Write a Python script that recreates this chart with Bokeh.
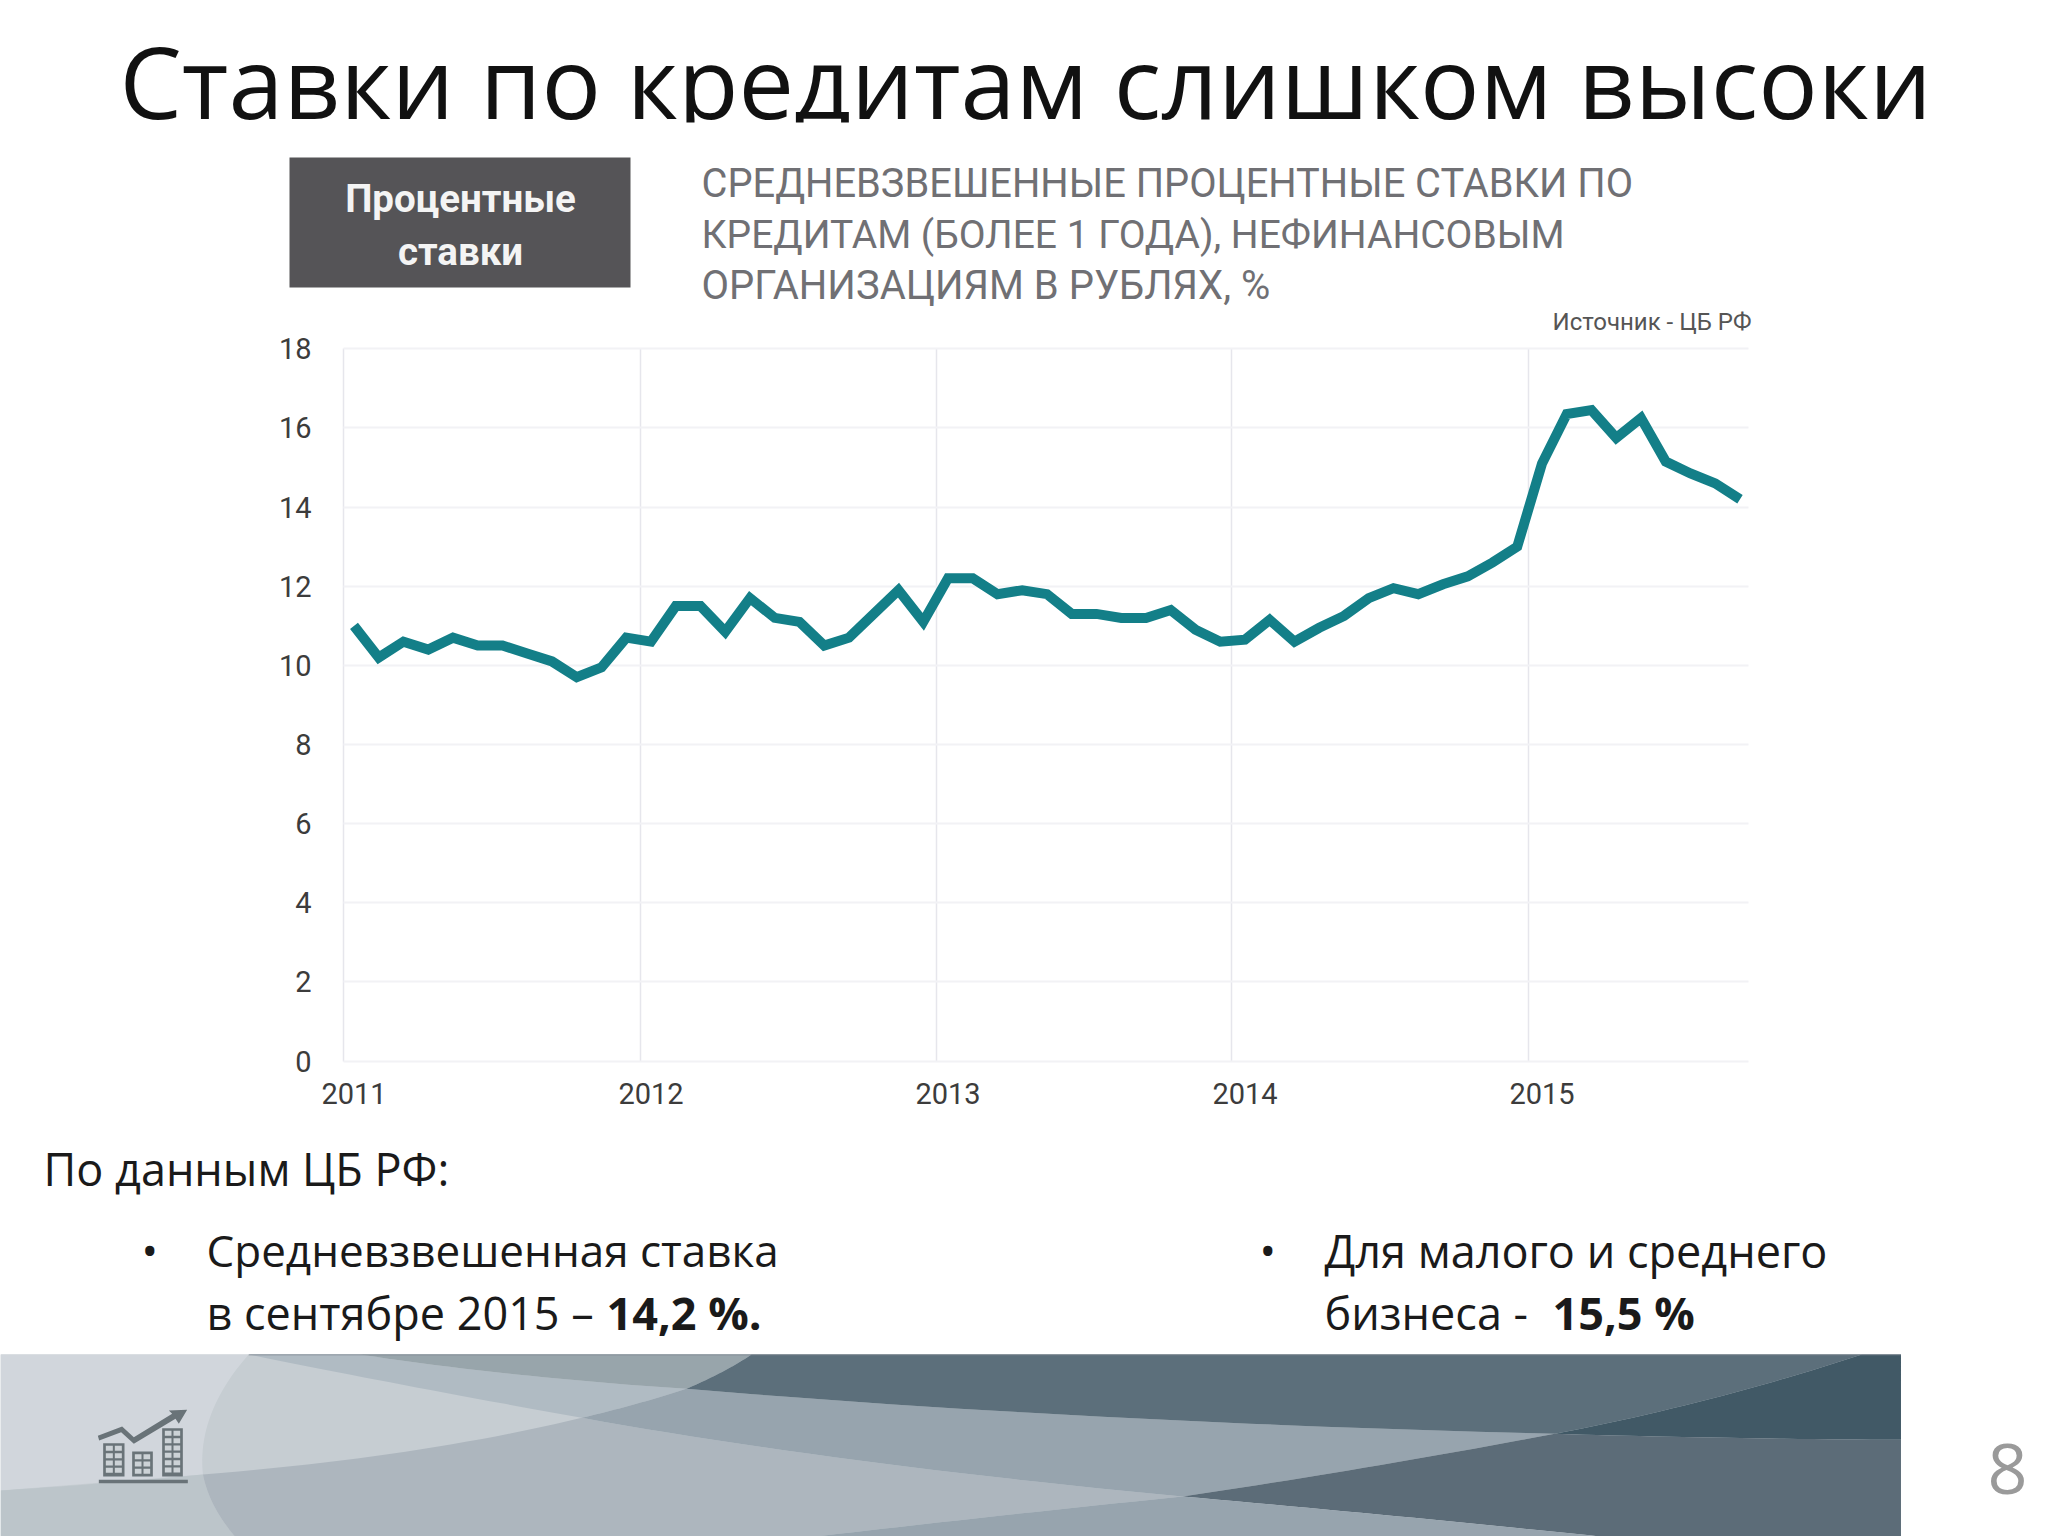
from bokeh.embed import file_html
from bokeh.resources import INLINE
from bokeh.plotting import figure
from bokeh.models import (ColumnDataSource, FixedTicker, Grid, Label, LinearAxis,
                          PolyAnnotation, Range1d)

title_text = "Ставки по кредитам слишком высоки"
box_lines = ["Процентные", "ставки"]
head_lines = ["СРЕДНЕВЗВЕШЕННЫЕ  ПРОЦЕНТНЫЕ СТАВКИ ПО",
              "КРЕДИТАМ (БОЛЕЕ 1 ГОДА), НЕФИНАНСОВЫМ",
              "ОРГАНИЗАЦИЯМ В РУБЛЯХ, %"]
source_text = "Источник - ЦБ РФ"

years = [2011, 2012, 2013, 2014, 2015]
y_ticks = [0, 2, 4, 6, 8, 10, 12, 14, 16, 18]
rates = [11.0, 10.2, 10.6, 10.4, 10.7, 10.5, 10.5, 10.3, 10.1, 9.7, 9.95, 10.7,
         10.6, 11.5, 11.5, 10.85, 11.7, 11.2, 11.1, 10.5, 10.7, 11.3, 11.9, 11.1,
         12.2, 12.2, 11.8, 11.9, 11.8, 11.3, 11.3, 11.2, 11.2, 11.4, 10.9, 10.6,
         10.65, 11.15, 10.6, 10.95, 11.25, 11.7, 11.95, 11.8, 12.05, 12.25, 12.6, 13.0,
         15.1, 16.35, 16.45, 15.75, 16.25, 15.15, 14.85, 14.6, 14.2]

W, H = 2048, 1536
OFF = 0
PX_YEAR = 297.0
PX_UNIT = 39.572
F_L, F_R, F_T, F_B = 343, 1748, 348.3, 1060.6   # page pixels of the chart area

def dx(px):
    return 2011 + (px - 353.5) / PX_YEAR
def dy(py):
    return (F_B - py) / PX_UNIT

p = figure(width=W, height=H, output_backend="svg", toolbar_location=None,
           x_range=Range1d(dx(OFF), dx(OFF + W)), y_range=Range1d(dy(OFF + H), dy(OFF)),
           x_axis_location=None, y_axis_location=None,
           min_border=0, min_border_left=0, min_border_right=0, min_border_top=0, min_border_bottom=0)
p.outline_line_color = None
p.background_fill_color = "#ffffff"
p.border_fill_color = "#ffffff"
p.center = []

def cx(x):
    return x - OFF
def cy(y):
    return y - OFF

def poly(pts, color, alpha=1.0):
    p.add_layout(PolyAnnotation(xs=[cx(a) for a, _ in pts], ys=[cy(b) for _, b in pts],
                                xs_units="canvas", ys_units="canvas",
                                fill_color=color, fill_alpha=alpha, line_color=None))

def text(x, y, s, size, color="#1a1a1a", font="Open Sans", style="normal", align="left", base="alphabetic"):
    if base == "alphabetic":
        y -= 0.41 * size
    p.add_layout(Label(x=cx(x), y=cy(y), x_units="canvas", y_units="canvas", text=s,
                       text_font=font, text_font_size=f"{size}px", text_color=color,
                       text_font_style=style, text_align=align, text_baseline=base))

# axes, fixed inside the full-page frame at the chart's edges
ax = LinearAxis(ticker=FixedTicker(ticks=years), fixed_location=0,
                major_label_overrides={y: str(y) for y in years})
ay = LinearAxis(ticker=FixedTicker(ticks=y_ticks), fixed_location=dx(F_L))
for a, standoff in ((ax, 16), (ay, 26)):
    a.major_tick_line_color = None
    a.minor_tick_line_color = None
    a.axis_line_color = None
    a.major_label_text_font = "Roboto"
    a.major_label_text_font_size = "29px"
    a.major_label_text_color = "#3c3c3c"
    a.major_label_standoff = standoff
p.add_layout(ax, "below")
p.add_layout(ay, "left")

xg = Grid(dimension=0, ticker=FixedTicker(ticks=[dx(F_L), dx(640), dx(936), dx(1231), dx(1528)]),
          grid_line_color="#e6e6ec", grid_line_width=1.5, cross_bounds=(0, 18))
yg = Grid(dimension=1, ticker=FixedTicker(ticks=y_ticks),
          grid_line_color="#f2f2f5", grid_line_width=2, cross_bounds=(dx(F_L), dx(F_R)))
p.add_layout(xg)
p.add_layout(yg)

src = ColumnDataSource(dict(x=[2011 + i / 12 for i in range(len(rates))], y=rates))
p.line("x", "y", source=src, line_color="#137f88", line_width=10, line_join="miter")

# title, clipped at its foot by the picture pasted under it in the slide
text(119, 121, title_text, 99, color="#111111")
poly([(0, 122), (W + OFF, 122), (W + OFF, 150), (0, 150)], "#ffffff")

# box and heading
poly([(289, 157), (630, 157), (630, 287), (289, 287)], "#555457")
text(460, 198, box_lines[0], 38.5, color="#f4f4f4", font="Roboto", style="bold", align="center", base="middle")
text(460, 251, box_lines[1], 38.5, color="#f4f4f4", font="Roboto", style="bold", align="center", base="middle")
for yy, s, fs in zip((183, 234, 285), head_lines, (39.8, 39, 40)):
    text(701, yy, s, fs, color="#707074", font="Roboto", base="middle")
text(1751, 321, source_text, 24, color="#555555", font="Roboto", align="right", base="middle")

# body texts
text(43, 1186, "По данным ЦБ РФ:", 45)
text(141, 1268, "•", 44)
text(206, 1268, "Средневзвешенная ставка", 44)
text(206, 1330, "в сентябре 2015 – ", 45)
text(606, 1330, "14,2 %.", 45, style="bold")
text(1259, 1268, "•", 44)
text(1324, 1268, "Для малого и среднего", 45)
text(1324, 1330, "бизнеса -  ", 45)
text(1552, 1330, "15,5 %", 45, style="bold")
text(2007, 1497, "8", 70, color="#9a9a9a", align="center")

# banner, in coordinates of the bottom strip
def bz(a, c, b, n=24):
    out = []
    for i in range(n + 1):
        t = i / n
        out.append(((1 - t) ** 2 * a[0] + 2 * t * (1 - t) * c[0] + t * t * b[0],
                    (1 - t) ** 2 * a[1] + 2 * t * (1 - t) * c[1] + t * t * b[1]))
    return out

def strip(pts, color):
    poly([(x / 0.7656, 1340 + y / 3) for x, y in pts], color)

R, T, Bm = 1455, 42, 590
strip([(0, T), (R, T), (R, Bm), (0, Bm)], "#c6cdd2")
strip([(0, T), (190, T)] + bz((190, T), (150, 220), (155, 402)) + [(0, 450)], "#d1d6dc")
strip([(0, 450)] + bz((0, 450), (80, 430), (155, 402)) + bz((155, 402), (160, 500), (180, Bm)) + [(0, Bm)], "#bcc5ca")
strip(bz((155, 402), (320, 350), (445, 232)) + bz((445, 232), (640, 370), (905, 468)) +
      bz((905, 468), (750, 530), (620, Bm)) + bz((180, Bm), (160, 500), (155, 402)), "#adb6be")
strip([(190, T), (275, T)] + bz((275, T), (390, 110), (525, 145)) + bz((525, 145), (490, 190), (445, 232)) +
      bz((445, 232), (300, 130), (190, T)), "#b0bbc3")
strip([(275, T), (575, T)] + bz((575, T), (555, 95), (525, 145)) + bz((525, 145), (390, 110), (275, T)), "#98a5ab")
strip(bz((525, 145), (830, 245), (1190, 280)) + bz((1190, 280), (1040, 390), (905, 468)) +
      bz((905, 468), (640, 370), (445, 232)) + bz((445, 232), (490, 190), (525, 145)), "#97a4ae")
strip([(575, T), (1425, T)] + bz((1425, T), (1310, 190), (1190, 280)) + bz((1190, 280), (830, 245), (525, 145)) +
      bz((525, 145), (555, 95), (575, T)), "#5c6f7b")
strip([(1425, T), (R, T), (R, 298)] + bz((R, 298), (1320, 295), (1190, 280)) + bz((1190, 280), (1310, 190), (1425, T)), "#415966")
strip(bz((1190, 280), (1320, 295), (R, 298)) + [(R, Bm), (1230, Bm)] + bz((1230, Bm), (1070, 525), (905, 468)) +
      bz((905, 468), (1040, 390), (1190, 280)), "#5c6c78")
strip(bz((905, 468), (1070, 525), (1230, Bm)) + [(620, Bm)] + bz((620, Bm), (750, 530), (905, 468)), "#97a4ae")
strip([(190, T), (R, T), (R, T + 2), (190, T + 2)], "#77808a")

# icon
IC = "#697378"
def icon(pts, color=IC):
    poly([(80 + x / 3, 1390 + y / 3) for x, y in pts], color)

icon([(52, 136), (125, 108), (160, 140), (275, 70), (265, 60), (320, 58), (295, 100), (285, 85), (160, 160), (122, 125), (56, 150)])
for l, t, r in ((68, 158, 132), (155, 183, 217), (245, 113, 307)):
    icon([(l, t), (r, t), (r, 258), (l, 258)])
    yy = t + 8
    while yy + 16 < 254:
        xm = (l + r) / 2
        icon([(l + 8, yy), (xm - 3, yy), (xm - 3, yy + 15), (l + 8, yy + 15)], "#ccd2d6")
        icon([(xm + 3, yy), (r - 8, yy), (r - 8, yy + 15), (xm + 3, yy + 15)], "#ccd2d6")
        yy += 22
icon([(55, 268), (322, 268), (322, 278), (55, 278)])

open("out.html", "w").write(file_html(p, INLINE))
